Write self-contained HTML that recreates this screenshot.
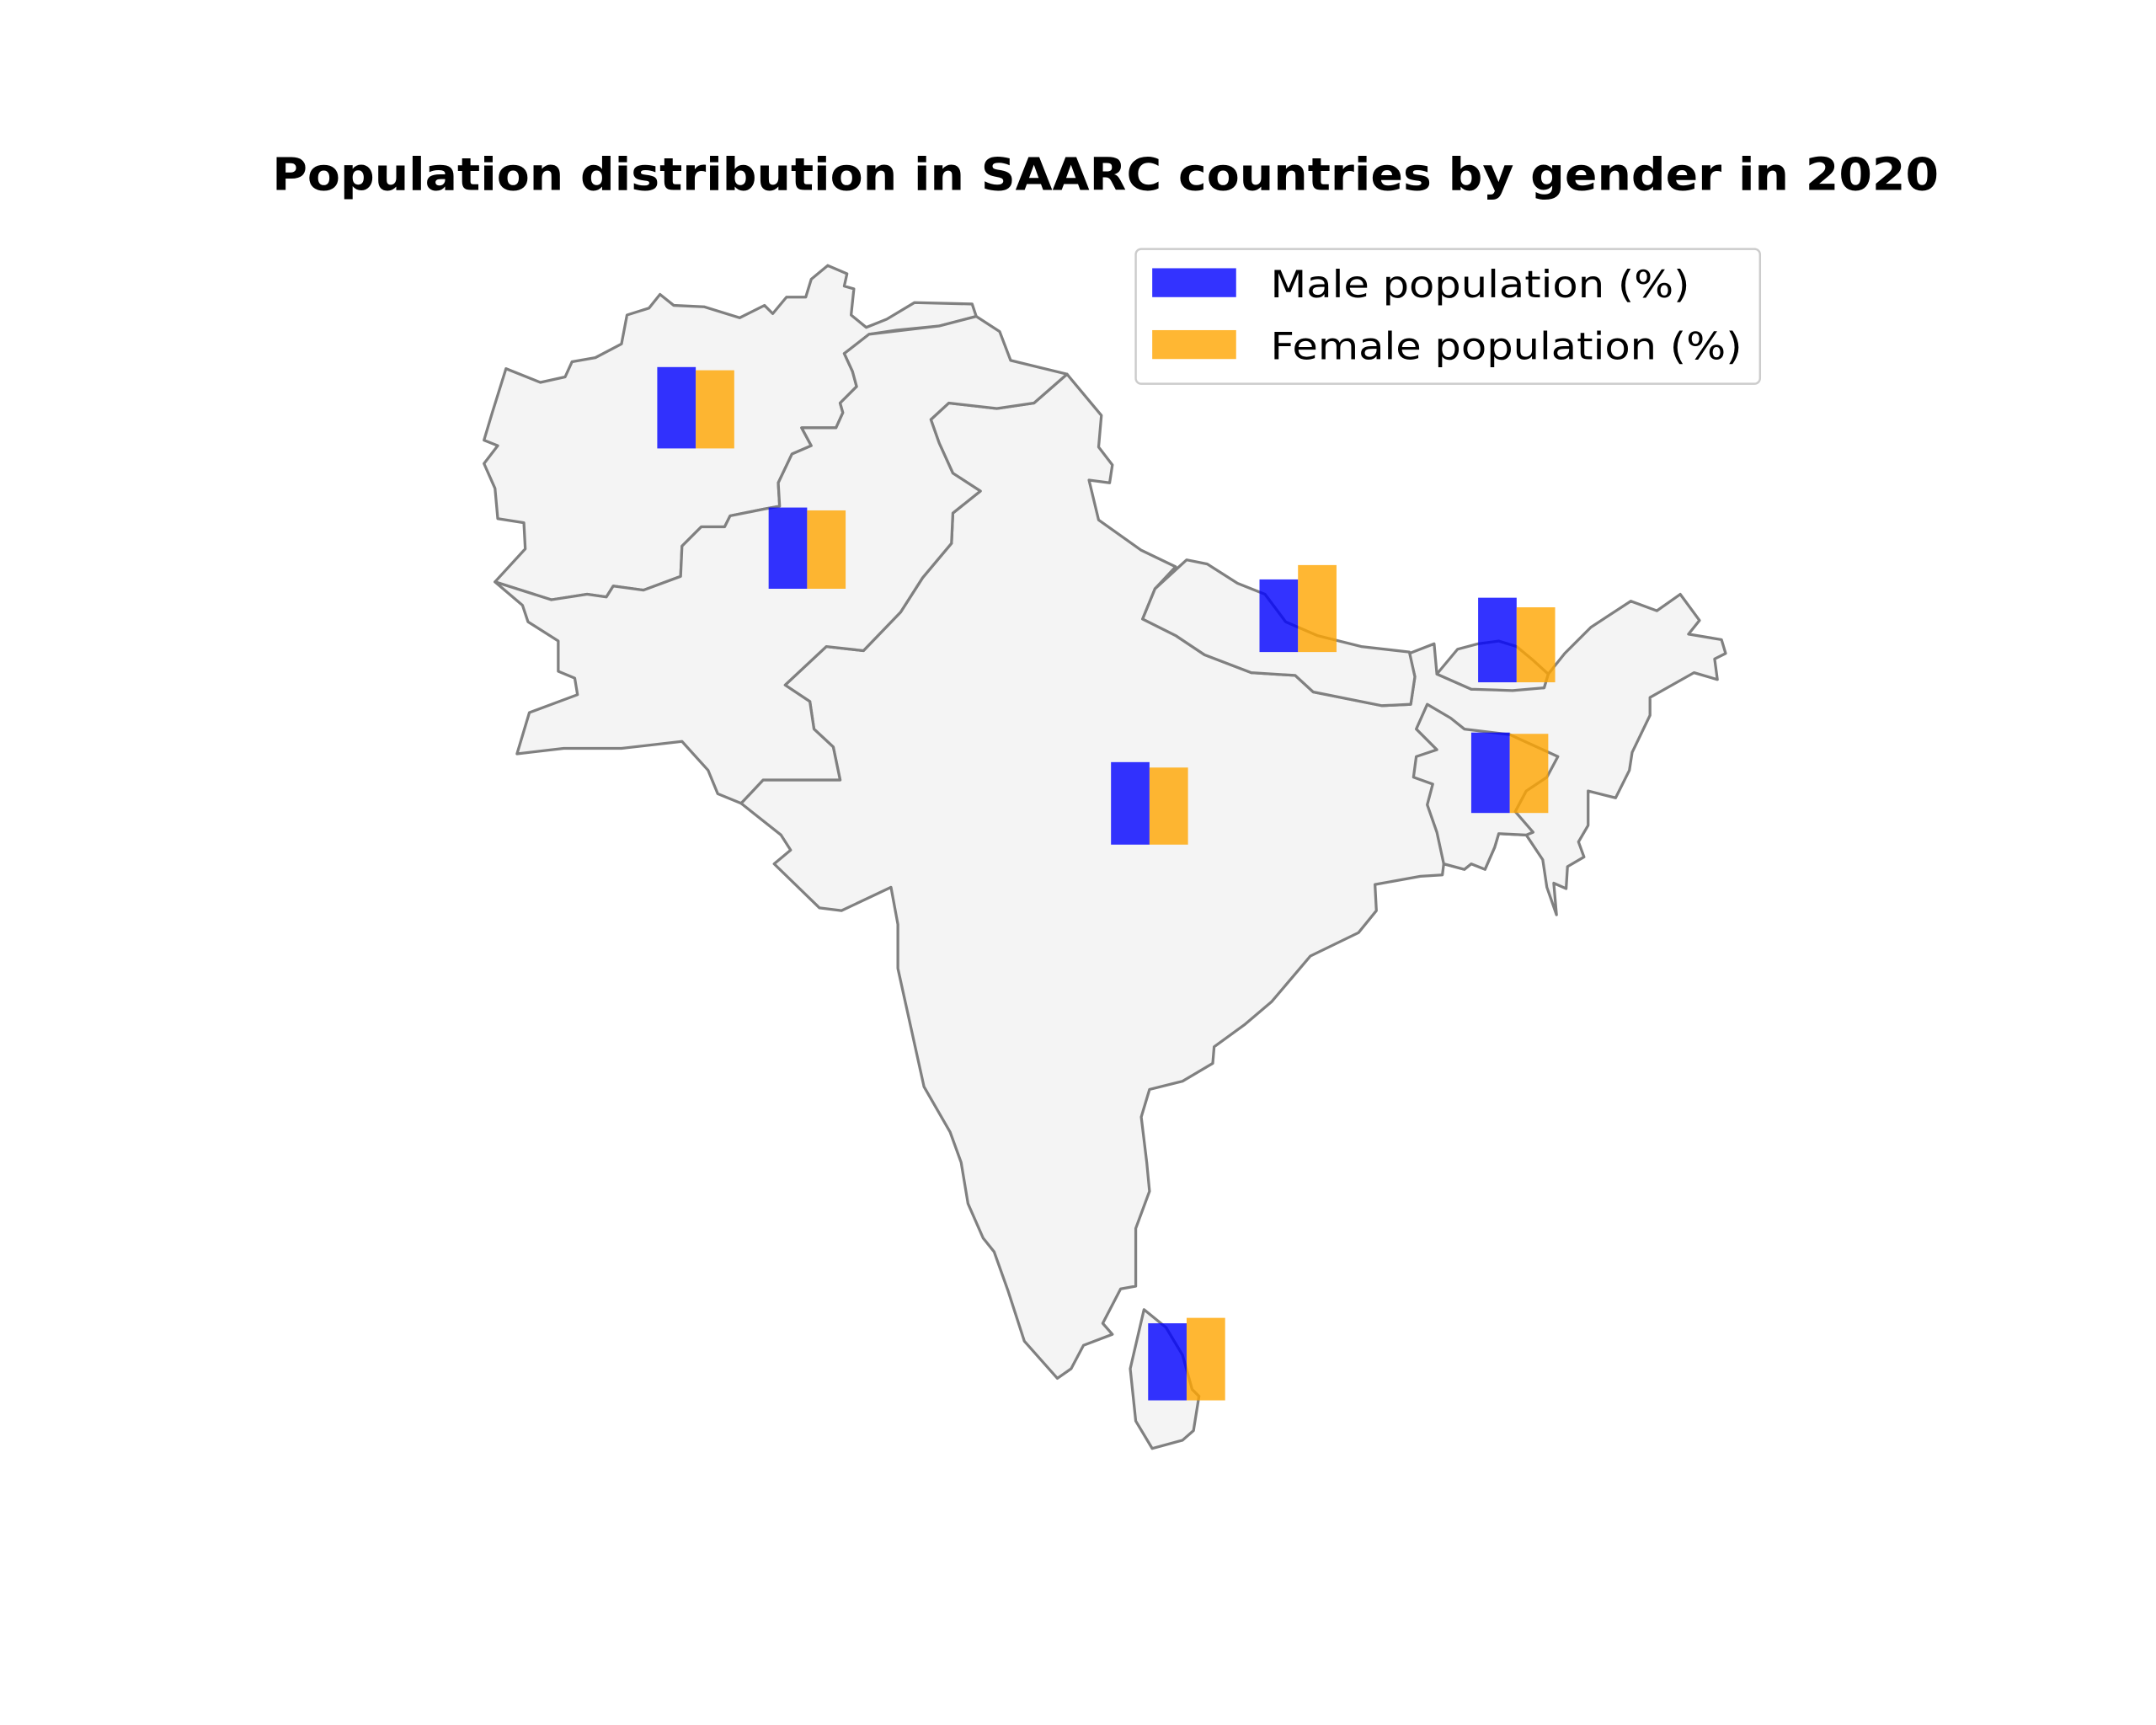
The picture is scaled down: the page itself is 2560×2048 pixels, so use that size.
<!DOCTYPE html>
<html><head><meta charset="utf-8"><style>
html,body{margin:0;padding:0;background:#fff;}
svg{display:block;}
</style></head><body>
<svg id="chart" width="2560" height="2048" viewBox="0 0 1568 1254" preserveAspectRatio="none" xmlns="http://www.w3.org/2000/svg">
<rect width="1568" height="1254" fill="#fff"/>
<text x="804" y="138" text-anchor="middle" font-family="DejaVu Sans, Liberation Sans, sans-serif" font-weight="bold" font-size="33" textLength="1212" lengthAdjust="spacingAndGlyphs">Population distribution in SAARC countries by gender in 2020</text>
<g fill="#f4f4f4" stroke="#808080" stroke-width="2" stroke-linejoin="round">
<polygon points="776,272 801,302 799,325 809,338 807,351 792,349 799,378 830,400 855,412 840,428 831,450 855,462 876,476 910,489 942,491 955,503 1005,513 1026,512 1029,492 1025,475 1043,468 1045,490 1070,501 1123,500 1126,490 1138,475 1157,456 1186,437 1205,444 1222,432 1236,451 1228,461 1252,465 1255,475 1247,479 1249,494 1232,489 1200,507 1200,520 1187,547 1185,560 1175,580 1155,575 1155,600 1148,612 1152,623 1140,630 1139,646 1130,642 1132,665 1125,645 1122,625 1110,607 1090,606 1087,616 1080,632 1070,628 1065,632 1050,628 1049,636 1033,637 1000,643 1001,662 988,678 953,695 925,728 905,745 883,761 882,773 860,786 836,792 830,812 834,845 836,866 826,893 826,935 815,937 802,962 809,970 788,978 779,995 769,1002 745,975 733,938 723,910 715,900 704,875 699,845 691,823 672,790 653,704 653,672 648,645 612,662 596,660 563,628 575,618 568,607 539,584 555,567 611,567 606,543 592,530 589,510 571,498 601,470 628,473 655,445 671,420 692,395 693,373 713,357 693,344 683,322 677,305 690,293 725,297 752,293"/>
<polygon points="360,423 382,399 381,380 362,377 360,355 352,337 362,324 352,320 358,300 368,268 393,278 411,274 416,263 433,260 452,250 456,229 472,224 480,214 490,222 512,223 538,231 556,222 562,228 572,216 586,216 590,203 602,193 616,199 614,208 621,210 619,229 630,238 645,232 665,220 707,221 710,230 683,237 652,240 632,243 617,255 614,257 620,270 623,281 611,293 613,300 608,311 583,311 590,324 576,330 566,351 567,368 556,370 531,375 527,383 510,383 496,397 495,419 468,429 446,426 441,434 427,432 401,436"/>
<polygon points="360,423 401,436 427,432 441,434 446,426 468,429 495,419 496,397 510,383 527,383 531,375 556,370 567,368 566,351 576,330 590,324 583,311 608,311 613,300 611,293 623,281 620,270 614,257 632,243 683,237 710,230 727,241 735,262 776,272 752,293 725,297 690,293 677,305 683,322 693,344 713,357 693,373 692,395 671,420 655,445 628,473 601,470 571,498 589,510 592,530 606,543 611,567 555,567 539,584 522,577 515,560 496,539 452,544 410,544 376,548 385,518 420,505 418,493 406,488 406,466 384,452 380,440"/>
<polygon points="831,450 840,428 863,407 878,410 900,424 920,432 935,452 958,462 990,470 1025,474 1029,492 1026,512 1005,513 955,503 942,491 910,489 876,476 855,462"/>
<polygon points="1045,490 1060,472 1075,468 1090,466 1103,470 1115,480 1126,490 1123,500 1100,502 1070,501"/>
<polygon points="1030,530 1038,512 1055,522 1065,530 1098,534 1133,550 1125,565 1110,575 1102,590 1115,605 1110,607 1090,606 1087,616 1080,632 1070,628 1065,632 1050,628 1045,605 1038,585 1042,570 1028,565 1030,550 1045,545"/>
<polygon points="832,952 848,965 860,985 867,1010 872,1015 868,1040 860,1047 838,1053 826,1033 822,995"/>
</g>
<g id="bars"></g>
<g>
<rect x="826" y="181" width="454" height="98" rx="4" fill="#fff" fill-opacity="0.8" stroke="#cccccc" stroke-width="1.5"/>
<rect x="838" y="195" width="61" height="21" fill="#3333ff"/>
<text x="924" y="216" font-family="DejaVu Sans, Liberation Sans, sans-serif" font-size="27" textLength="305" lengthAdjust="spacingAndGlyphs">Male population (%)</text>
<rect x="838" y="240" width="61" height="21" fill="#ffb733"/>
<text x="924" y="261" font-family="DejaVu Sans, Liberation Sans, sans-serif" font-size="27" textLength="343" lengthAdjust="spacingAndGlyphs">Female population (%)</text>
</g>
</svg>
<script>
const countries = ["Afghanistan","Pakistan","India","Nepal","Bhutan","Bangladesh","Sri Lanka"];
const malePct = [51.0, 50.9, 51.7, 45.5, 53.0, 50.4, 48.3];
const femalePct = [49.0, 49.1, 48.3, 54.5, 47.0, 49.6, 51.7];
const anchorLon = [506, 587, 836, 944, 1103, 1098, 863];
const anchorLat = [326, 428, 614, 474, 496, 591, 1018];
const pxPerPct = 1.16;
const barW = 28;
function h(v){ return v * pxPerPct; }
const g = document.getElementById('bars');
const NS = 'http://www.w3.org/2000/svg';
countries.forEach((c, i) => {
  const cx = anchorLon[i], by = anchorLat[i];
  const m = document.createElementNS(NS, 'rect');
  m.setAttribute('x', cx - barW); m.setAttribute('y', by - h(malePct[i]));
  m.setAttribute('width', barW); m.setAttribute('height', h(malePct[i]));
  m.setAttribute('fill', '#0000ff'); m.setAttribute('fill-opacity', '0.8');
  
  
  g.appendChild(m);
  const f = document.createElementNS(NS, 'rect');
  f.setAttribute('x', cx); f.setAttribute('y', by - h(femalePct[i]));
  f.setAttribute('width', barW); f.setAttribute('height', h(femalePct[i]));
  f.setAttribute('fill', '#ffa500'); f.setAttribute('fill-opacity', '0.8');
  
  
  g.appendChild(f);
});
</script>
</body></html>
